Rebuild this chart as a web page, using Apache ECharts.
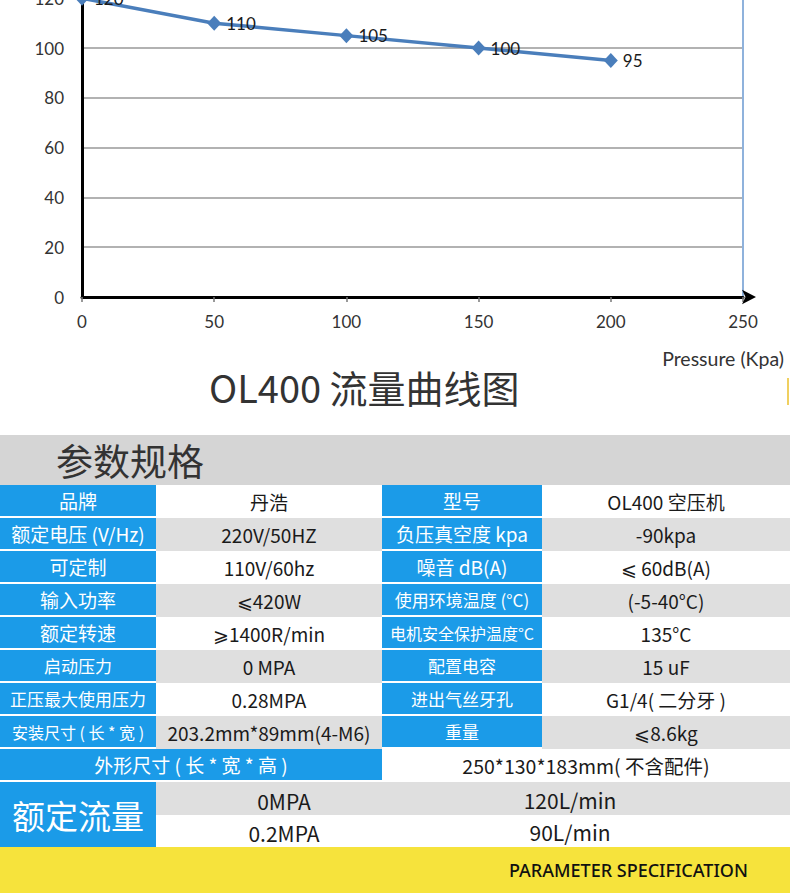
<!DOCTYPE html>
<html><head><meta charset="utf-8">
<script src="https://cdn.jsdelivr.net/npm/echarts@6/dist/echarts.min.js"></script>
<style>
html,body{margin:0;padding:0;background:#fff;width:790px;height:893px;overflow:hidden;position:relative;font-family:"Noto Sans CJK SC","Noto Sans",sans-serif;}
#chart{position:absolute;left:0;top:-60px;width:790px;height:480px;}
#tbl{position:absolute;left:0;top:435px;width:790px;}
.hdr{height:50px;background:#d5d5d5;color:#333;font-size:37px;line-height:50px;padding-left:56px;box-sizing:border-box;}
.row{display:flex;height:33px;}
.c{box-sizing:border-box;display:flex;align-items:center;justify-content:center;white-space:nowrap;font-size:19px;color:#1a1a1a;}
.k{background:#1b9be8;color:#fff;border-bottom:2px solid #fff;}
.w{background:#fff;}
.g{background:#dfdfdf;}
.sm{font-size:17px;}
.xs{font-size:16px;}
.foot{height:47px;background:#f6e33c;position:relative;}
.foot span{position:absolute;left:509px;top:11px;font-size:18px;font-weight:500;color:#111;font-family:"Noto Sans","Noto Sans CJK SC",sans-serif;}
</style></head>
<body>
<div id="chart"></div>
<div style="position:absolute;left:787px;top:378px;width:2px;height:27px;background:#f0d060;"></div>
<div id="tbl"></div>
<script>
// ---- chart data ----
const pressureKpa = [0, 50, 100, 150, 200];
const flowLmin = [120, 110, 105, 100, 95];
const chartTitle = 'OL400 流量曲线图';
const xAxisName = 'Pressure (Kpa)';

// ---- table data ----
const tableTitle = '参数规格';
const leftKeys = ['品牌','额定电压 (V/Hz)','可定制','输入功率','额定转速','启动压力','正压最大使用压力','安装尺寸 ( 长 * 宽 )'];
const leftVals = ['丹浩','220V/50HZ','110V/60hz','⩽420W','⩾1400R/min','0 MPA','0.28MPA','203.2mm*89mm(4-M6)'];
const rightKeys = ['型号','负压真空度 kpa','噪音 dB(A)','使用环境温度 (°C)','电机安全保护温度°C','配置电容','进出气丝牙孔','重量'];
const rightVals = ['OL400 空压机','-90kpa','⩽ 60dB(A)','(-5-40°C)','135°C','15 uF','G1/4( 二分牙 )','⩽8.6kg'];
const sizeKey = '外形尺寸 ( 长 * 宽 * 高 )';
const sizeVal = '250*130*183mm( 不含配件)';
const flowKey = '额定流量';
const flowPressures = ['0MPA','0.2MPA'];
const flowRates = ['120L/min','90L/min'];
const footerText = 'PARAMETER SPECIFICATION';

const chart = echarts.init(document.getElementById('chart'), null, {renderer:'svg'});
chart.setOption({
  animation:false,
  title:{text:chartTitle,left:204,top:422,textStyle:{fontFamily:'Noto Sans CJK SC',fontSize:38,fontWeight:'normal',color:'#333'}},
  graphic:[{type:'text',right:6,top:408,style:{text:xAxisName,font:'19.5px Lato, "Noto Sans", sans-serif',fill:'#333'}}],
  grid:{left:82,right:47,top:7,bottom:123},
  xAxis:{type:'value',min:0,max:250,interval:50,
    axisLine:{lineStyle:{color:'#000',width:3},symbol:['none','arrow'],symbolSize:[11,14],symbolOffset:[0,13]},
    axisTick:{show:true,length:5,lineStyle:{color:'#777',width:1.5}},
    axisLabel:{color:'#333',fontSize:17,margin:16,fontFamily:'Lato'},
    splitLine:{show:false}},
  yAxis:[{type:'value',min:0,max:140,interval:20,
    axisLine:{show:true,lineStyle:{color:'#000',width:3}},
    axisTick:{show:false},
    axisLabel:{color:'#333',fontSize:17,margin:18,fontFamily:'Lato'},
    splitLine:{lineStyle:{color:'#999',width:1.5}}},
   {type:'value',min:0,max:140,interval:20,position:'right',
    axisLine:{show:true,lineStyle:{color:'#8fb2dc',width:2}},
    axisTick:{show:false},axisLabel:{show:false},splitLine:{show:false}}],
  series:[{type:'line',data:pressureKpa.map((p,i)=>[p,flowLmin[i]]),
    symbol:'diamond',symbolSize:[14,15],
    lineStyle:{color:'#4a7ebb',width:3.5},itemStyle:{color:'#4a7ebb'},
    label:{show:true,position:'right',distance:5,color:'#1a1a1a',fontSize:17,fontFamily:'Lato'}}]
});

// ---- table ----
const smallLeft = {5:'sm',6:'sm',7:'xs'};
const smallRight = {3:'sm',4:'xs',5:'sm',6:'sm',7:'sm'};
let h = `<div class="hdr">${tableTitle}</div>`;
for (let i=0;i<leftKeys.length;i++){
  const bg = i%2===0?'w':'g';
  h += `<div class="row">
    <div class="c k ${smallLeft[i]||''}" style="width:156px">${leftKeys[i]}</div>
    <div class="c ${bg}" style="width:226px">${leftVals[i]}</div>
    <div class="c k ${smallRight[i]||''}" style="width:160px">${rightKeys[i]}</div>
    <div class="c ${bg}" style="width:248px">${rightVals[i]}</div></div>`;
}
h += `<div class="row" style="height:33px"><div class="c k" style="width:382px">${sizeKey}</div><div class="c w" style="width:408px;font-size:19.5px">${sizeVal}</div></div>`;
h += `<div style="display:flex;height:65px">
  <div class="c k" style="width:156px;font-size:33px;border-bottom:none">${flowKey}</div>
  <div style="width:634px">
   ${flowPressures.map((p,i)=>`<div class="row" style="height:${i?32:33}px"><div class="c ${i?'w':'g'}" style="width:256px;font-size:21px;padding-top:4px">${p}</div><div class="c ${i?'w':'g'}" style="width:316px;font-size:21px;padding-top:2px">${flowRates[i]}</div><div class="c ${i?'w':'g'}" style="width:62px"></div></div>`).join('')}
  </div></div>`;
h += `<div class="foot"><span>${footerText}</span></div>`;
document.getElementById('tbl').innerHTML = h;
</script>
</body></html>
